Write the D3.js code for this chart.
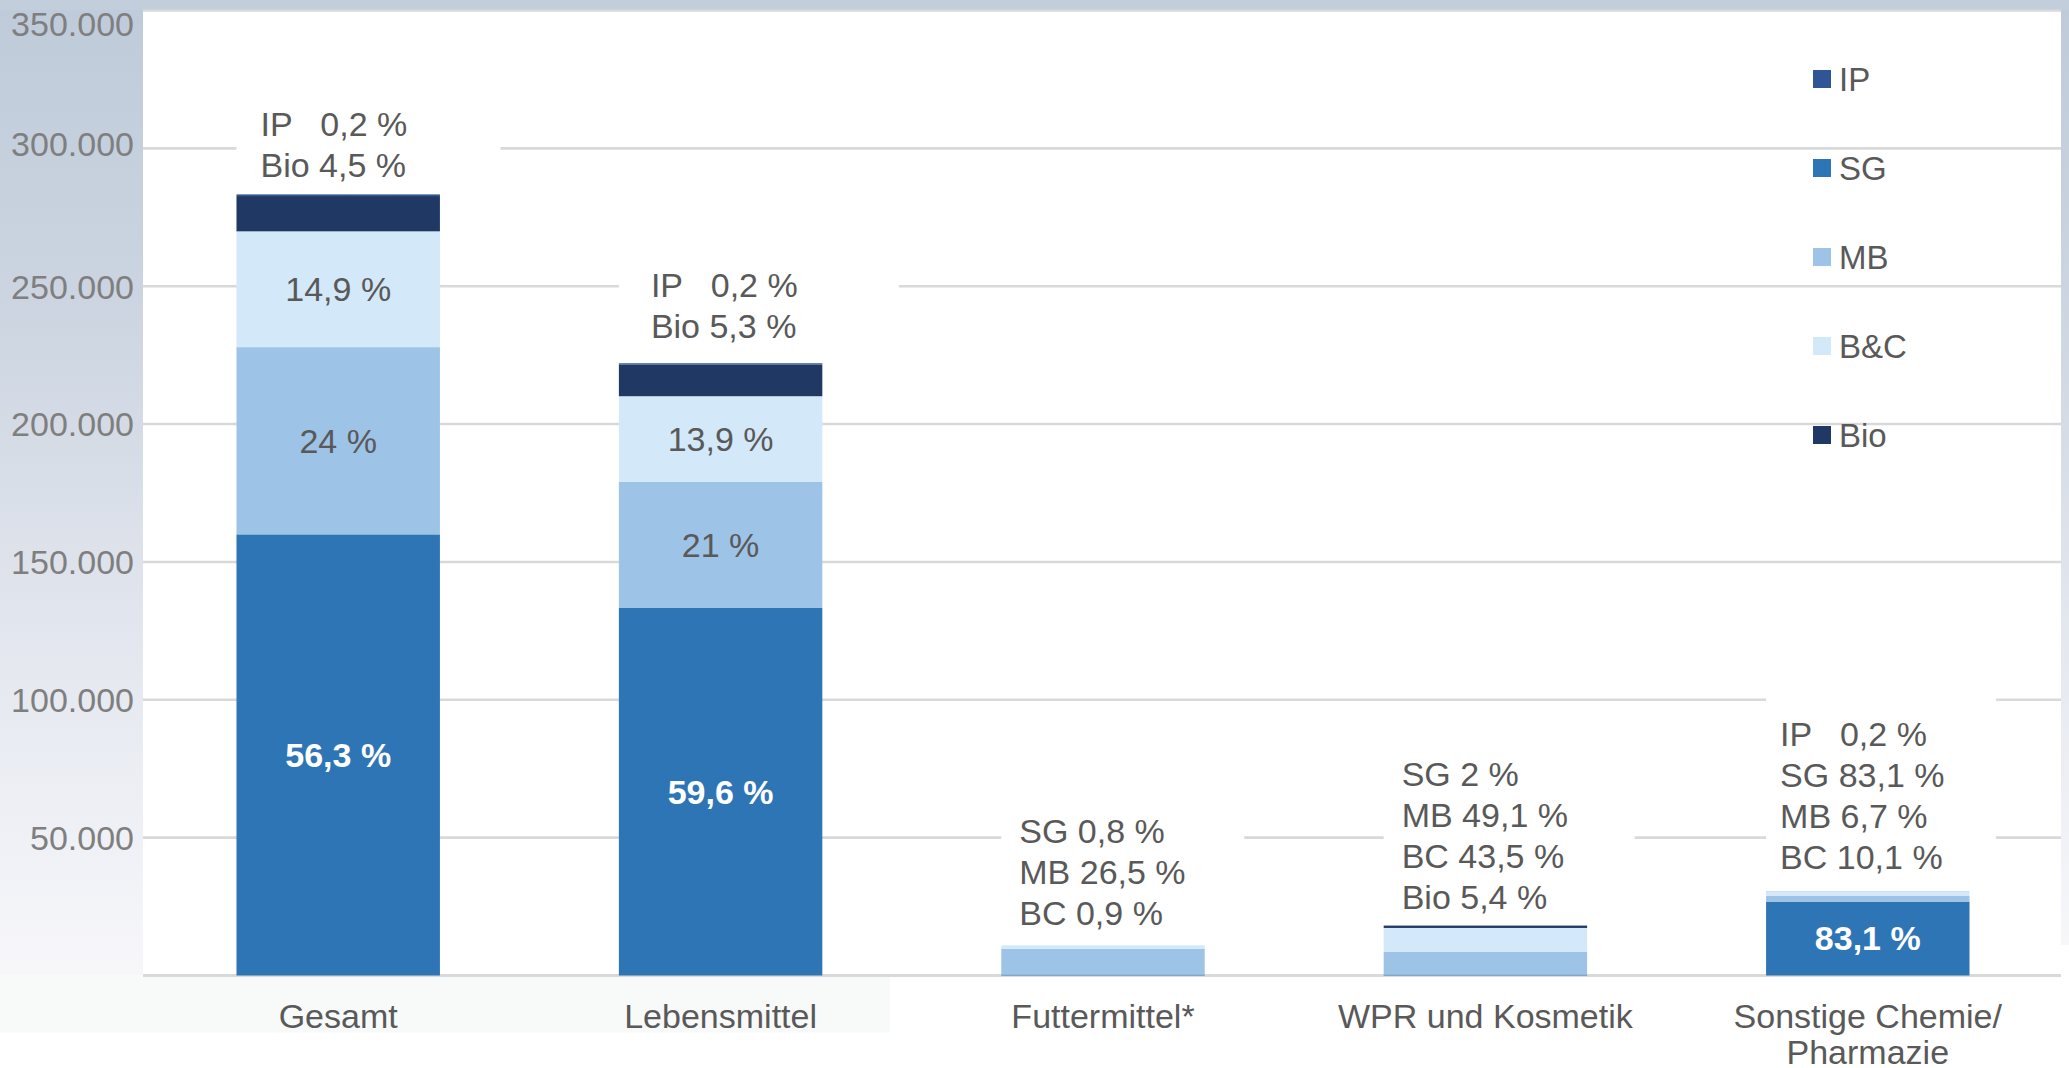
<!DOCTYPE html>
<html>
<head>
<meta charset="utf-8">
<script src="https://cdn.jsdelivr.net/npm/d3@7"></script>
<style>
  html, body { margin: 0; padding: 0; background: #ffffff; }
  svg { display: block; font-family: "Liberation Sans", Arial, sans-serif; }
  text { white-space: pre; }
</style>
</head>
<body>
<svg id="chart" width="2069" height="1068"></svg>
<script>
// ---------- data ----------
const categories = ["Gesamt", "Lebensmittel", "Futtermittel*", "WPR und Kosmetik", "Sonstige Chemie/\nPharmazie"];
const seriesKeys = ["SG", "MB", "B&C", "Bio", "IP"];          // stack order, bottom to top
const legendKeys = ["IP", "SG", "MB", "B&C", "Bio"];          // legend order, top to bottom
const sgValues  = [160000, 133300,  350,  350, 26800];
const mbValues  = [ 67900,  45800, 9300, 8200,  2150];
const bcValues  = [ 42000,  31000, 1300, 8700,  1450];
const bioValues = [ 12800,  11500,    0,  850,     0];
const ipValues  = [   600,    450,    0,    0,    60];
const yTicks = [50000, 100000, 150000, 200000, 250000, 300000, 350000];
const yTickLabels = ["50.000", "100.000", "150.000", "200.000", "250.000", "300.000", "350.000"];
const sgLabels = ["56,3 %", "59,6 %", "", "", "83,1 %"];
const mbLabels = ["24 %", "21 %", "", "", ""];
const bcLabels = ["14,9 %", "13,9 %", "", "", ""];
const noteLines = [
  ["IP   0,2 %", "Bio 4,5 %"],
  ["IP   0,2 %", "Bio 5,3 %"],
  ["SG 0,8 %", "MB 26,5 %", "BC 0,9 %"],
  ["SG 2 %", "MB 49,1 %", "BC 43,5 %", "Bio 5,4 %"],
  ["IP   0,2 %", "SG 83,1 %", "MB 6,7 %", "BC 10,1 %"]
];

// ---------- layout / style ----------
const colors = { "IP": "#2f5597", "SG": "#2e75b6", "MB": "#9dc3e6", "B&C": "#d3e8f8", "Bio": "#203864" };
const noteGap = [29, 37, 32, 28, 34];     // px from bar top to centre of last note line
const noteDx = [24, 32, 18, 18, 14];      // px from bar left to note text
const noteBoxW = [264, 280, 243, 251, 230];
const tickShift = [0, 0, 0, 0, 0, -5, 0]; // small vertical nudges of tick labels
const lineH = 41;
const W = 2069, H = 1068;
const plot = { left: 143, right: 2061, top: 10.5, bottom: 975.5 };

const seriesValues = { "SG": sgValues, "MB": mbValues, "B&C": bcValues, "Bio": bioValues, "IP": ipValues };
const seriesLabels = { "SG": sgLabels, "MB": mbLabels, "B&C": bcLabels };
const table = categories.map((c, i) => {
  const row = { cat: c };
  seriesKeys.forEach(k => row[k] = seriesValues[k][i]);
  return row;
});

const svg = d3.select("#chart");
const defs = svg.append("defs");
const grad = defs.append("linearGradient").attr("id", "sideGrad")
  .attr("x1", 0).attr("y1", 0).attr("x2", 0).attr("y2", 1);
[[0, "#bfcbda"], [0.3, "#cbd4e0"], [0.55, "#dce1ea"], [0.8, "#eceef4"], [1, "#f7f7fa"]]
  .forEach(([o, c]) => grad.append("stop").attr("offset", o).attr("stop-color", c));

// backgrounds
svg.append("rect").attr("x", 0).attr("y", 0).attr("width", W).attr("height", H).attr("fill", "#ffffff");
svg.append("rect").attr("x", 0).attr("y", 0).attr("width", plot.left).attr("height", plot.bottom).attr("fill", "url(#sideGrad)");
svg.append("rect").attr("x", plot.right).attr("y", 0).attr("width", W - plot.right).attr("height", 945).attr("fill", "url(#sideGrad)");
svg.append("rect").attr("x", 0).attr("y", 0).attr("width", W).attr("height", 10).attr("fill", "#c2cedc");
svg.append("rect").attr("x", 0).attr("y", plot.bottom).attr("width", 890).attr("height", 57).attr("fill", "#f8f9f9");

// scales
const x = d3.scaleBand().domain(categories).range([147, 2059])
  .paddingInner(0.468).paddingOuter(0.234);
const y = d3.scaleLinear().domain([0, 350000]).range([plot.bottom, plot.top]);

// gridlines
const grid = svg.append("g");
grid.selectAll("line").data([0].concat(yTicks)).join("line")
  .attr("x1", plot.left).attr("x2", plot.right)
  .attr("y1", d => y(d)).attr("y2", d => y(d))
  .attr("stroke", "#d9d9d9").attr("stroke-width", d => d === 0 ? 3 : 2.6);

// y-axis labels
const yAxis = d3.axisLeft(y).tickValues(yTicks).tickSize(0)
  .tickFormat((d, i) => yTickLabels[i]);
const yg = svg.append("g").attr("transform", `translate(${plot.left - 6},0)`).call(yAxis);
yg.select(".domain").remove();
yg.selectAll("text").attr("font-size", 34).attr("fill", "#7f7f7f")
  .attr("font-family", "Liberation Sans, Arial, sans-serif")
  .attr("dy", "0.35em")
  .attr("y", (d, i) => Math.max(y(d), 24) - y(d) + tickShift[i]);

// note boxes (white, hide gridlines) – drawn before bars
const stacked = d3.stack().keys(seriesKeys)(table);
const totals = table.map(r => d3.sum(seriesKeys, k => r[k]));

const notes = svg.append("g");
categories.forEach((c, i) => {
  const lines = noteLines[i];
  const lastY = y(totals[i]) - noteGap[i];
  const firstY = lastY - (lines.length - 1) * lineH;
  notes.append("rect")
    .attr("x", x(c)).attr("y", firstY - 40)
    .attr("width", noteBoxW[i]).attr("height", lastY - firstY + 62)
    .attr("fill", "#ffffff");
  const t = notes.append("text").attr("font-size", 34).attr("fill", "#595959")
    .attr("xml:space", "preserve");
  lines.forEach((ln, j) => {
    t.append("tspan").attr("x", x(c) + noteDx[i]).attr("y", firstY + j * lineH)
      .attr("dy", "0.35em").text(ln);
  });
});

// bars
const bars = svg.append("g");
stacked.forEach(s => {
  bars.append("g").attr("fill", colors[s.key])
    .selectAll("rect").data(s).join("rect")
    .attr("x", d => x(d.data.cat))
    .attr("width", x.bandwidth())
    .attr("y", d => y(d[1]))
    .attr("height", d => Math.max(0, y(d[0]) - y(d[1])));
});

// in-bar labels
stacked.forEach(s => {
  const labs = seriesLabels[s.key];
  if (!labs) return;
  bars.append("g").selectAll("text").data(s).join("text")
    .attr("x", d => x(d.data.cat) + x.bandwidth() / 2)
    .attr("y", d => (y(d[0]) + y(d[1])) / 2)
    .attr("dy", "0.35em")
    .attr("text-anchor", "middle")
    .attr("font-size", 34)
    .attr("font-weight", s.key === "SG" ? "bold" : "normal")
    .attr("fill", s.key === "SG" ? "#ffffff" : "#595959")
    .text((d, i) => labs[i]);
});

// x-axis category labels
const xl = svg.append("g");
categories.forEach(c => {
  const t = xl.append("text").attr("text-anchor", "middle").attr("font-size", 34).attr("fill", "#595959");
  c.split("\n").forEach((ln, j) => {
    t.append("tspan").attr("x", x(c) + x.bandwidth() / 2).attr("y", 1016 + j * 36).attr("dy", "0.35em").text(ln);
  });
});

// legend
const leg = svg.append("g").attr("transform", "translate(1813,79)");
legendKeys.forEach((k, i) => {
  const g = leg.append("g").attr("transform", `translate(0,${i * 89})`);
  g.append("rect").attr("x", 0).attr("y", -9).attr("width", 18).attr("height", 18).attr("fill", colors[k]);
  g.append("text").attr("x", 26).attr("y", 0).attr("dy", "0.35em").attr("font-size", 33)
    .attr("fill", "#595959").text(k);
});
</script>
</body>
</html>
